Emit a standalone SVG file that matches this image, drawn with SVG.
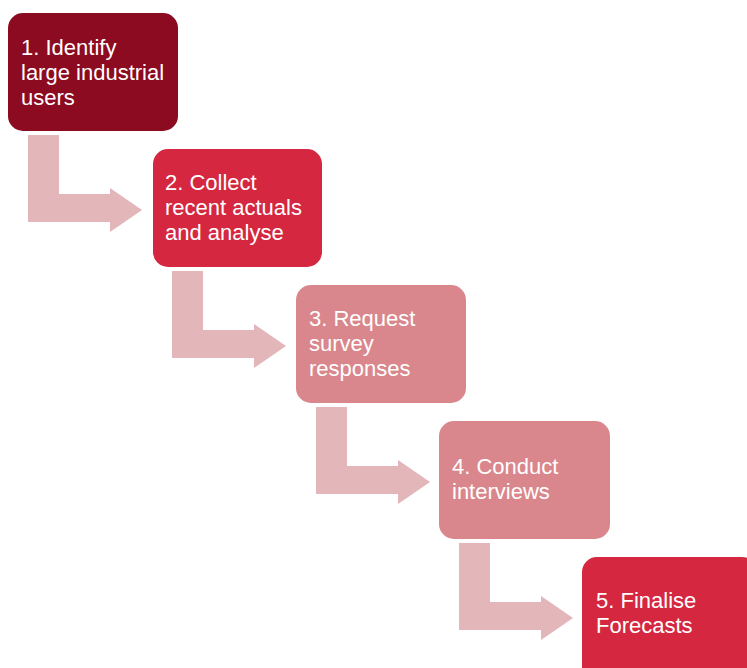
<svg xmlns="http://www.w3.org/2000/svg" width="747" height="668" viewBox="0 0 747 668">
<style>
.box{stroke:none}
.t{font-family:"Liberation Sans",Arial,sans-serif;font-size:22px;fill:#ffffff}
.arr{fill:#E3B6B9}
</style>
<rect width="747" height="668" fill="#ffffff"/>
<g id="connectors">
<path class="arr" d="M28,135 H59 V194 H110 V188 L142,210 L110,232 V222 H28 Z"/>
<path class="arr" d="M172,271 H203 V330 H254 V324 L286,346 L254,368 V358 H172 Z"/>
<path class="arr" d="M316,407 H347 V466 H398 V460 L430,482 L398,504 V494 H316 Z"/>
<path class="arr" d="M459,543 H490 V602 H541 V596 L573,618 L541,640 V630 H459 Z"/>
</g>
<g id="node1">
<rect class="box" x="8" y="13" width="170" height="118" rx="15" fill="#8C0B20"/>
<text class="t" x="21" y="55">1. Identify</text>
<text class="t" x="21" y="80">large industrial</text>
<text class="t" x="21" y="105">users</text>
</g>
<g id="node2">
<rect class="box" x="153" y="149" width="169" height="118" rx="15" fill="#D52740"/>
<text class="t" x="165" y="190">2. Collect</text>
<text class="t" x="165" y="215">recent actuals</text>
<text class="t" x="165" y="240">and analyse</text>
</g>
<g id="node3">
<rect class="box" x="296" y="285" width="170" height="118" rx="15" fill="#D9878C"/>
<text class="t" x="309" y="326">3. Request</text>
<text class="t" x="309" y="351">survey</text>
<text class="t" x="309" y="376">responses</text>
</g>
<g id="node4">
<rect class="box" x="439" y="421" width="171" height="118" rx="15" fill="#D9878C"/>
<text class="t" x="452" y="474">4. Conduct</text>
<text class="t" x="452" y="499">interviews</text>
</g>
<g id="node5">
<rect class="box" x="582" y="557" width="175" height="125" rx="15" fill="#D52740"/>
<text class="t" x="596" y="608">5. Finalise</text>
<text class="t" x="596" y="633">Forecasts</text>
</g>
</svg>
